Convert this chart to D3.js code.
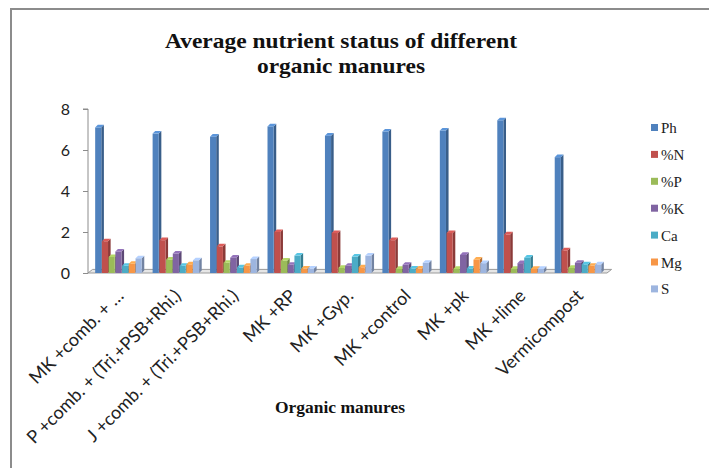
<!DOCTYPE html>
<html><head><meta charset="utf-8">
<script src="https://cdn.jsdelivr.net/npm/d3@7/dist/d3.min.js"></script>
<style>html,body{margin:0;padding:0;background:#fff;}svg{display:block;}</style>
</head><body>
<svg id="chart" width="709" height="468"></svg>
<script>
const categories = ["MK +comb. + …", "P +comb. + (Tri.+PSB+Rhi.)", "J +comb. + (Tri.+PSB+Rhi.)", "MK +RP", "MK +Gyp.", "MK +control", "MK +pk", "MK +lime", "Vermicompost"];
const seriesNames = ["Ph", "%N", "%P", "%K", "Ca", "Mg", "S"];
const Ph = [7.1, 6.8, 6.65, 7.15, 6.7, 6.9, 6.95, 7.45, 5.65];
const pN = [1.55, 1.6, 1.3, 2.0, 1.95, 1.6, 1.95, 1.88, 1.1];
const pP = [0.78, 0.65, 0.5, 0.6, 0.25, 0.2, 0.2, 0.2, 0.25];
const pK = [1.05, 0.95, 0.75, 0.4, 0.35, 0.4, 0.88, 0.48, 0.5];
const Ca = [0.35, 0.35, 0.27, 0.85, 0.8, 0.22, 0.22, 0.75, 0.42];
const Mg = [0.45, 0.42, 0.35, 0.22, 0.28, 0.22, 0.65, 0.2, 0.35];
const S  = [0.72, 0.62, 0.68, 0.22, 0.85, 0.5, 0.48, 0.2, 0.42];
const yTicks = [0, 2, 4, 6, 8];
const colors = ["#4F81BD", "#C0504D", "#9BBB59", "#8064A2", "#4BACC6", "#F79646", "#9DB5DF"];
const seriesValues = [Ph, pN, pP, pK, Ca, Mg, S];

const svg = d3.select("#chart");
// outer border
svg.append("path").attr("d", "M11,468 L11,9 L709,9").attr("fill", "none").attr("stroke", "#8c8c8c").attr("stroke-width", 2);

// title
const title = svg.append("text").attr("text-anchor", "middle")
  .attr("font-family", "'Liberation Serif','Times New Roman',serif").attr("font-weight", "bold")
  .attr("font-size", 21).attr("fill", "#111");
title.append("tspan").attr("x", 341).attr("y", 48).attr("textLength", 352).attr("lengthAdjust", "spacingAndGlyphs").text("Average nutrient status of different");
title.append("tspan").attr("x", 341).attr("y", 73).attr("textLength", 168).attr("lengthAdjust", "spacingAndGlyphs").text("organic manures");

const y = d3.scaleLinear().domain([0, 8]).range([273, 109]);
const x0 = d3.scaleBand().domain(categories).range([90, 607]).paddingInner(0.18).paddingOuter(0.09);
const x1 = d3.scaleBand().domain(seriesNames).range([0, x0.bandwidth()]);
const d = 2.6;

// floor
const fx0 = 88, fx1 = 607;
svg.append("path").attr("d", `M${fx0},${y(0)} L${fx0+d+2},${y(0)-d-1} L${fx1+d+2},${y(0)-d-1} L${fx1},${y(0)} Z`)
  .attr("fill", "#e6e6e6").attr("stroke", "#9a9a9a").attr("stroke-width", 1);

// y axis
const yAxis = d3.axisLeft(y).tickValues(yTicks).tickSize(5).tickPadding(13).tickFormat(d3.format("d"));
const ga = svg.append("g").attr("transform", "translate(88,0)").call(yAxis);
ga.select(".domain").attr("stroke", "#8c8c8c").attr("d", `M-5,${y(8)}H0V${y(0)}`);
ga.selectAll(".tick line").attr("stroke", "#8c8c8c");
ga.selectAll(".tick text").attr("font-family", "Lato, 'Open Sans', sans-serif").attr("font-size", 16).attr("fill", "#222");

// bars
function shade(c, k) { return d3.color(c).darker(k).formatHex(); }
categories.forEach((cat, i) => {
  const g = svg.append("g");
  seriesNames.forEach((s, j) => {
    const v = seriesValues[j][i];
    const bx = x0(cat) + x1(s), bw = x1.bandwidth() - 0.6;
    const top = y(v), base = y(0);
    const c = colors[j];
    g.append("path").attr("d", `M${bx+bw},${top} L${bx+bw+d},${top-d} L${bx+bw+d},${base-d} L${bx+bw},${base} Z`).attr("fill", shade(c, 0.9));
    g.append("rect").attr("x", bx).attr("y", top).attr("width", bw).attr("height", base - top).attr("fill", c);
    g.append("path").attr("d", `M${bx},${top} L${bx+d},${top-d} L${bx+bw+d},${top-d} L${bx+bw},${top} Z`).attr("fill", d3.color(c).brighter(0.4).formatHex());
  });
});

// x labels
categories.forEach((cat) => {
  const cx = x0(cat) + x0.bandwidth() / 2;
  svg.append("text").attr("text-anchor", "end")
    .attr("transform", `translate(${cx + 6},${297}) rotate(-45)`)
    .attr("font-family", "Lato, 'Open Sans', sans-serif").attr("font-size", 18).attr("fill", "#222")
    .text(cat);
});

// x axis title
svg.append("text").attr("x", 340).attr("y", 413).attr("text-anchor", "middle")
  .attr("font-family", "'Liberation Serif','Times New Roman',serif").attr("font-weight", "bold")
  .attr("font-size", 16).attr("textLength", 130).attr("lengthAdjust", "spacingAndGlyphs")
  .attr("fill", "#111").text("Organic manures");

// legend
const lg = svg.append("g");
seriesNames.forEach((s, j) => {
  const ly = 128 + j * 26.9;
  lg.append("rect").attr("x", 651).attr("y", ly - 4).attr("width", 7).attr("height", 7).attr("fill", colors[j]);
  lg.append("text").attr("x", 661).attr("y", ly + 5).attr("font-family", "'Liberation Serif','Times New Roman',serif")
    .attr("font-size", 15).attr("fill", "#222").text(s);
});
</script>
</body></html>
